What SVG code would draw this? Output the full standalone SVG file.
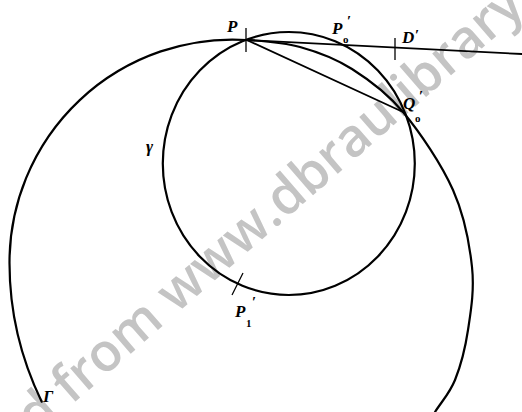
<svg xmlns="http://www.w3.org/2000/svg" width="522" height="412" viewBox="0 0 522 412">
<style>
.c{fill:none;stroke:#000;stroke-width:2.2;stroke-linecap:round}
.l{fill:none;stroke:#000;stroke-width:1.8;stroke-linecap:round}
.t{fill:none;stroke:#000;stroke-width:1.3}
.lb{font-family:"Liberation Serif",serif;font-style:italic;font-weight:bold;font-size:17px;fill:#000}
.pr{font-family:"Liberation Serif",serif;font-weight:bold;font-size:15px;fill:#000}
.sm{font-family:"Liberation Serif",serif;font-weight:bold;font-size:11px;fill:#000}
.wm{font-family:"Open Sans",sans-serif;font-weight:600;font-size:53px;fill:#c4c4c4}
</style>
<rect width="522" height="412" fill="#fff"/>
<text class="wm" transform="translate(36,436) rotate(-41)">d from www.dbraulibrary</text>
<g id="Gamma">
<path class="c" d="M41.7,401.7 C22.1,361.2 9.5,313 9.5,263 A223,223 0 0,1 246.7,40 C264.47,41.13 282.45,42.17 300,47 C317.55,51.83 334.83,58.17 352,69 C369.17,79.83 386.17,91.83 403,112 C419.83,132.17 441.5,164.17 453,190 C464.5,215.83 469.5,243.67 472,267 C474.5,290.330 470.83,311.17 468,330 C465.17,348.83 460.5,366.33 455,380 C449.5,393.67 441.67,401.33 435,412"/>
<text class="lb" x="43" y="402">Γ</text>
</g>
<g id="gamma">
<ellipse class="c" cx="288.8" cy="163.5" rx="126" ry="131.5"/>
<text class="lb" x="146" y="152">γ</text>
</g>
<g id="connectors">
<line class="l" x1="246.7" y1="40" x2="522" y2="54"/>
<line class="l" x1="246.7" y1="40" x2="403" y2="112"/>
</g>
<g id="P">
<line class="t" x1="246" y1="28" x2="246" y2="52"/>
<text class="lb" x="227" y="32">P</text>
</g>
<g id="P0p">
<text class="lb" x="332" y="34">P</text>
<text class="pr" x="347" y="26">′</text>
<text class="sm" x="343" y="43">o</text>
</g>
<g id="Dp">
<line class="t" x1="395" y1="38" x2="395" y2="60"/>
<text class="lb" x="402" y="43">D</text>
<text class="pr" x="415" y="40">′</text>
</g>
<g id="Q0p">
<text class="lb" x="403" y="109">Q</text>
<text class="pr" x="419" y="101">′</text>
<text class="sm" x="415" y="122">o</text>
</g>
<g id="P1p">
<line class="t" x1="232" y1="295" x2="243" y2="273"/>
<text class="lb" x="235" y="317">P</text>
<text class="pr" x="252" y="307">′</text>
<text class="sm" x="246" y="327">1</text>
</g>
</svg>
